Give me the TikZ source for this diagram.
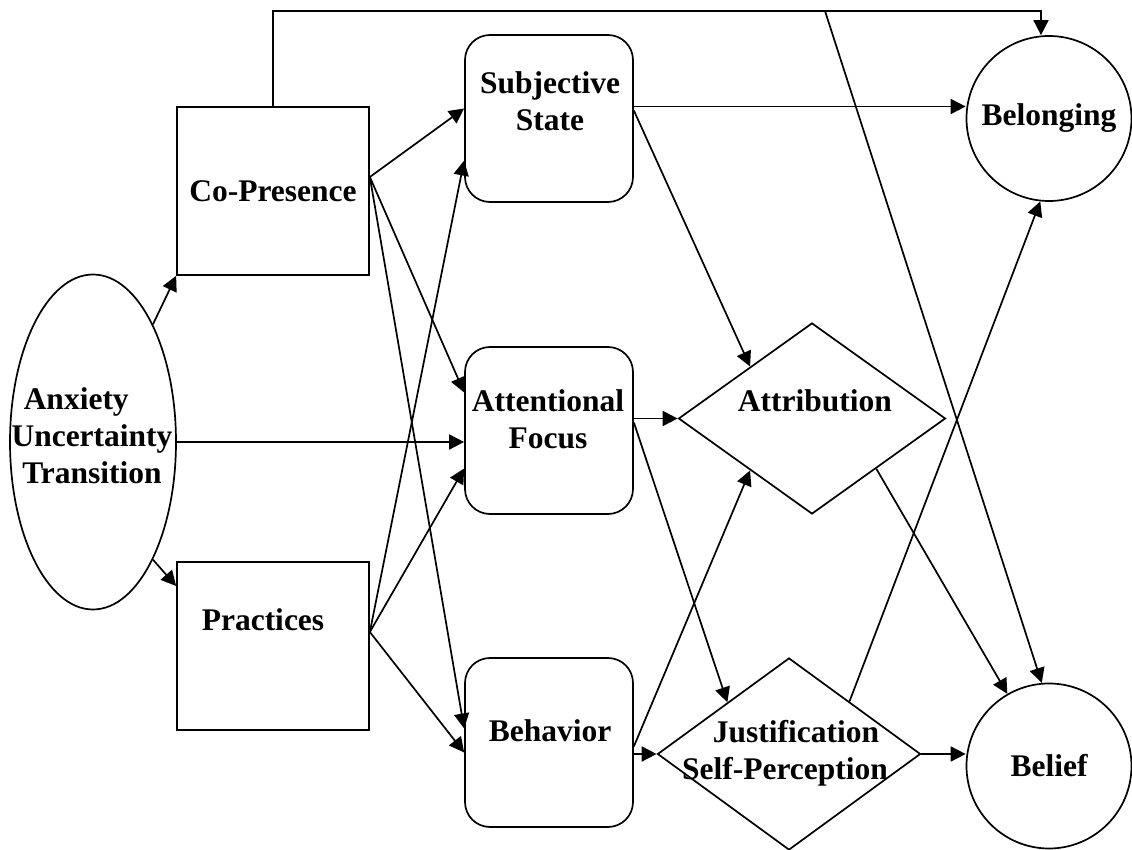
\documentclass[tikz,border=0pt]{standalone}
\usepackage{fontspec}
\setmainfont{Liberation Serif}
\usetikzlibrary{arrows.meta}
\usetikzlibrary{shapes.geometric}

\begin{document}
\begin{tikzpicture}[%
      x=0.5pt, y=-0.5pt,
      every node/.style={inner sep=0pt, align=center, font=\bfseries\fontsize{15.75pt}{18.4pt}\selectfont},
      box/.style={draw, rectangle, minimum width=96pt, minimum height=84pt},
      rbox/.style={draw, rectangle, rounded corners=12.5pt, minimum width=84pt, minimum height=83.5pt},
      dmd/.style={draw, diamond, minimum width=133.5pt, minimum height=95.5pt},
      circ/.style={draw, circle, minimum size=82.5pt},
      line width=0.85pt, >={Triangle[length=7.5pt,width=7.5pt]}
    ]
    \useasboundingbox[fill=white] (0,0) rectangle (1132,850);
    \node [] (anx) [draw, ellipse, minimum width=83pt, minimum height=167.5pt] at (93,442) {};
    \node [] (anx-t) at (92,436) {Anxiety\hspace*{1em}\\Uncertainty\\Transition};
    \node [] (copres) [box] at (273,191) {Co-Presence};
    \node [] (pract) [box] at (273,646) {};
    \node [] (pract-t) at (263,620) {Practices};
    \node [] (subj) [rbox] at (549,118.5) {};
    \node [] (subj-t) at (550,101) {Subjective\\State};
    \node [] (attn) [rbox] at (549,430.5) {};
    \node [] (attn-t) at (548,419) {Attentional\\Focus};
    \node [] (behav) [rbox, minimum height=84.5pt] at (549,742.5) {};
    \node [] (behav-t) at (550,731) {Behavior};
    \node [] (attr) [dmd] at (812,418.5) {};
    \node [] (attr-t) at (815,401) {Attribution};
    \node [] (justif) [dmd, minimum width=131.5pt, minimum height=96pt] at (789,754) {};
    \node [] (justif-t) at (785,753) {\hspace*{0.7em}Justification\\Self-Perception};
    \node [] (belong) [circ] at (1049,118.5) {Belonging};
    \node [] (belief) [circ] at (1049,766) {Belief};
    \coordinate (branch) at (825,11);
    \draw [->] (copres.north) |- (branch) -| ([xshift=-4pt]belong.north);
    \path [draw] (branch) edge[->] (belief.95)
    (anx.63) edge[->] (copres.south west)
    (anx.-63) edge[->] ([yshift=30pt]pract.west)
    (anx.east) edge[->] (anx.east -| attn.west)
    ([yshift=7pt]copres.east) edge[->] ([yshift=5pt]subj.west)
    ([yshift=7pt]copres.east) edge[->] ([yshift=19pt]attn.west)
    ([yshift=7pt]copres.east) edge[->] ([yshift=7pt]behav.west)
    ([yshift=7pt]pract.east) edge[->] ([yshift=-21pt]subj.west)
    ([yshift=7pt]pract.east) edge[->] ([yshift=-19pt]attn.west)
    ([yshift=7pt]pract.east) edge[->] ([yshift=-5pt]behav.west)
    ([yshift=6pt]subj.east) edge[->] ([yshift=6pt]subj.east -| belong.west)
    ([yshift=4pt]subj.east) edge[->] (attr.140)
    (attr.west -| attn.east) edge[->] (attr.west)
    ([yshift=4pt]attn.east) edge[->] (justif.140)
    ([yshift=-2pt]behav.east) edge[->] (attr.220)
    (justif.west -| behav.east) edge[->] (justif.west)
    (attr.-38) edge[->] (belief.120)
    (justif.41) edge[->] (belong.264)
    (justif.east) edge[->] (justif.east -| belief.west);
  \end{tikzpicture}
\end{document}
